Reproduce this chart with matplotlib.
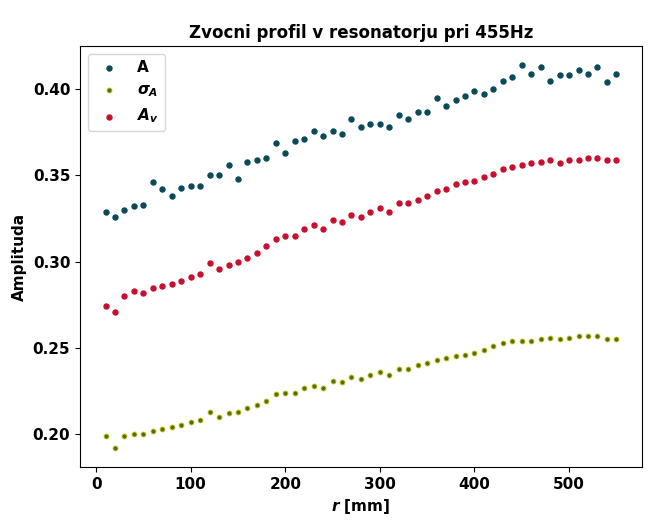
import matplotlib
matplotlib.use('Agg')
import matplotlib.pyplot as plt

# r positions in mm
r = [10, 20, 30, 40, 50, 60, 70, 80, 90, 100,
     110, 120, 130, 140, 150, 160, 170, 180, 190, 200,
     210, 220, 230, 240, 250, 260, 270, 280, 290, 300,
     310, 320, 330, 340, 350, 360, 370, 380, 390, 400,
     410, 420, 430, 440, 450, 460, 470, 480, 490, 500,
     510, 520, 530, 540, 550]

A = [0.329, 0.326, 0.330, 0.332, 0.333, 0.346, 0.342, 0.338, 0.343, 0.344,
     0.344, 0.350, 0.350, 0.356, 0.348, 0.358, 0.359, 0.360, 0.369, 0.363,
     0.370, 0.371, 0.376, 0.373, 0.376, 0.374, 0.383, 0.378, 0.380, 0.380,
     0.378, 0.385, 0.383, 0.387, 0.387, 0.395, 0.390, 0.394, 0.396, 0.399,
     0.397, 0.400, 0.405, 0.407, 0.414, 0.409, 0.413, 0.405, 0.408, 0.408,
     0.411, 0.409, 0.413, 0.404, 0.409]

sigma_A = [0.199, 0.192, 0.199, 0.200, 0.200, 0.202, 0.203, 0.204, 0.205, 0.207,
           0.208, 0.213, 0.210, 0.212, 0.213, 0.215, 0.217, 0.219, 0.223, 0.224,
           0.224, 0.227, 0.228, 0.227, 0.231, 0.230, 0.233, 0.232, 0.234, 0.236,
           0.234, 0.238, 0.238, 0.240, 0.241, 0.243, 0.244, 0.245, 0.246, 0.247,
           0.249, 0.251, 0.253, 0.254, 0.254, 0.254, 0.255, 0.256, 0.255, 0.256,
           0.257, 0.257, 0.257, 0.255, 0.255]

A_v = [0.274, 0.271, 0.280, 0.283, 0.282, 0.285, 0.286, 0.287, 0.289, 0.291,
       0.293, 0.299, 0.296, 0.298, 0.300, 0.302, 0.305, 0.309, 0.313, 0.315,
       0.315, 0.319, 0.321, 0.319, 0.324, 0.323, 0.327, 0.326, 0.329, 0.331,
       0.329, 0.334, 0.334, 0.336, 0.338, 0.341, 0.342, 0.345, 0.346, 0.347,
       0.349, 0.351, 0.354, 0.355, 0.356, 0.357, 0.358, 0.359, 0.357, 0.359,
       0.359, 0.360, 0.360, 0.359, 0.359]

plt.rcParams['font.weight'] = 'bold'
plt.rcParams['axes.labelweight'] = 'bold'
plt.rcParams['font.size'] = 11

fig = plt.figure(figsize=(6.53, 5.28), dpi=100)
ax = fig.add_axes([0.1225, 0.1155, 0.8605, 0.7975])

ax.scatter(r, A, s=13, color='#0b4a58', label='A')
ax.scatter(r, sigma_A, s=13, color='#5d6a05', edgecolors='#c9cc2a', linewidths=0.6,
           label=r'$\sigma_A$')
ax.scatter(r, A_v, s=13, color='#c8102e', label=r'$A_v$')

ax.set_title('Zvocni profil v resonatorju pri 455Hz', fontsize=12, fontweight='bold')
ax.set_xlabel(r'$r$ [mm]')
ax.set_ylabel('Amplituda')
ax.set_xticks([0, 100, 200, 300, 400, 500])
ax.set_yticks([0.20, 0.25, 0.30, 0.35, 0.40])
ax.legend(loc='upper left')

fig.savefig('out.png', dpi=100)
